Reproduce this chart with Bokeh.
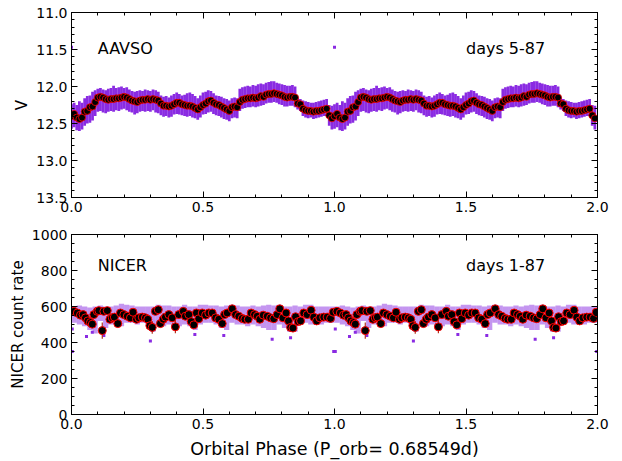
import numpy as np
from bokeh.plotting import figure
from bokeh.models import Range1d, LinearAxis, FixedTicker, PrintfTickFormatter, ColumnDataSource, CustomJSTickFormatter
from bokeh.layouts import column
from bokeh.embed import file_html
from bokeh.resources import INLINE
from bokeh.core.properties import value

# ---------------- data (one orbital cycle, shown twice) ----------------
aavso_phase = np.arange(100) / 100.0
aavso_v = [12.40, 12.37, 12.42, 12.44, 12.42, 12.34, 12.33, 12.28, 12.27, 12.21,
           12.15, 12.14, 12.15, 12.17, 12.18, 12.17, 12.17, 12.16, 12.16, 12.15,
           12.14, 12.15, 12.17, 12.19, 12.20, 12.21, 12.19, 12.18, 12.18, 12.17,
           12.18, 12.17, 12.18, 12.19, 12.23, 12.26, 12.26, 12.27, 12.26, 12.24,
           12.22, 12.22, 12.24, 12.25, 12.26, 12.26, 12.27, 12.29, 12.31, 12.28,
           12.25, 12.23, 12.20, 12.19, 12.22, 12.24, 12.25, 12.27, 12.29, 12.31,
           12.33, 12.28, 12.27, 12.28, 12.21, 12.18, 12.17, 12.16, 12.16, 12.15,
           12.16, 12.15, 12.13, 12.14, 12.11, 12.10, 12.10, 12.09, 12.10, 12.11,
           12.12, 12.14, 12.15, 12.14, 12.14, 12.15, 12.23, 12.24, 12.30, 12.32,
           12.33, 12.33, 12.34, 12.33, 12.33, 12.32, 12.31, 12.30, 12.39, 12.43]
aavso_bright = [12.24, 12.22, 12.25, 12.20, 12.22, 12.16, 12.13, 12.12, 12.07, 12.05,
                12.03, 12.02, 12.04, 12.05, 12.03, 12.02, 11.99, 12.02, 12.01, 12.00,
                12.02, 12.01, 12.04, 12.06, 12.07, 12.06, 12.05, 12.06, 12.04, 12.05,
                12.06, 12.04, 12.05, 12.07, 12.12, 12.14, 12.13, 12.15, 12.12, 12.10,
                12.08, 12.10, 12.12, 12.11, 12.09, 12.08, 12.10, 12.13, 12.16, 12.12,
                12.08, 12.07, 12.05, 12.06, 12.09, 12.12, 12.13, 12.14, 12.16, 12.17,
                12.19, 12.16, 12.15, 12.16, 12.03, 12.01, 12.00, 11.99, 12.00, 11.98,
                11.99, 11.97, 11.96, 11.97, 11.95, 11.94, 11.93, 11.93, 11.95, 11.96,
                11.97, 11.98, 11.99, 11.99, 11.98, 12.00, 12.15, 12.17, 12.19, 12.20,
                12.21, 12.22, 12.22, 12.21, 12.20, 12.19, 12.18, 12.17, 12.25, 12.26]
aavso_faint = [12.57, 12.55, 12.59, 12.60, 12.58, 12.53, 12.50, 12.49, 12.46, 12.40,
               12.34, 12.33, 12.35, 12.36, 12.34, 12.33, 12.34, 12.32, 12.33, 12.31,
               12.30, 12.32, 12.34, 12.35, 12.38, 12.36, 12.34, 12.33, 12.34, 12.33,
               12.34, 12.32, 12.35, 12.36, 12.39, 12.41, 12.40, 12.42, 12.41, 12.38,
               12.37, 12.38, 12.39, 12.40, 12.41, 12.40, 12.42, 12.43, 12.45, 12.42,
               12.38, 12.37, 12.35, 12.34, 12.37, 12.39, 12.40, 12.42, 12.44, 12.45,
               12.47, 12.43, 12.42, 12.43, 12.33, 12.30, 12.29, 12.28, 12.28, 12.27,
               12.28, 12.27, 12.26, 12.25, 12.23, 12.22, 12.22, 12.21, 12.22, 12.24,
               12.25, 12.27, 12.27, 12.26, 12.26, 12.28, 12.31, 12.33, 12.40, 12.42,
               12.43, 12.42, 12.44, 12.43, 12.42, 12.41, 12.40, 12.40, 12.53, 12.58]
aavso_out_phase = [0.0]
aavso_out_v = [11.47]

nicer_phase = [0.009, 0.022, 0.034, 0.044, 0.053, 0.062, 0.072, 0.079, 0.085, 0.098,
               0.104, 0.117, 0.123, 0.136, 0.146, 0.155, 0.163, 0.176, 0.186, 0.199,
               0.212, 0.224, 0.234, 0.247, 0.256, 0.269, 0.281, 0.290, 0.298, 0.307,
               0.319, 0.330, 0.338, 0.349, 0.357, 0.370, 0.383, 0.395, 0.408, 0.425,
               0.433, 0.446, 0.455, 0.465, 0.475, 0.484, 0.497, 0.510, 0.522, 0.535,
               0.548, 0.560, 0.573, 0.582, 0.592, 0.611, 0.624, 0.636, 0.649, 0.659,
               0.672, 0.683, 0.696, 0.706, 0.716, 0.729, 0.744, 0.757, 0.769, 0.782,
               0.792, 0.804, 0.816, 0.825, 0.833, 0.842, 0.852, 0.862, 0.871, 0.883,
               0.896, 0.911, 0.921, 0.932, 0.944, 0.959, 0.972, 0.985, 0.995]
nicer_rate = [573, 564, 552, 555, 537, 520, 511, 502, 555, 573,
              577, 466, 573, 577, 529, 537, 541, 505, 564, 555,
              546, 537, 568, 529, 537, 541, 537, 529, 493, 484,
              573, 582, 505, 529, 541, 555, 537, 487, 555, 573,
              546, 555, 516, 498, 564, 532, 564, 552, 564, 564,
              537, 529, 505, 555, 564, 587, 555, 546, 534, 529,
              529, 564, 555, 546, 529, 552, 546, 537, 532, 555,
              587, 537, 564, 520, 484, 480, 543, 516, 520, 564,
              555, 579, 541, 520, 537, 541, 541, 534, 568]
nicer_err = [10, 10, 10, 10, 10, 10, 12, 12, 10, 10,
             10, 45, 10, 10, 10, 10, 10, 12, 10, 10,
             10, 10, 10, 10, 10, 10, 10, 10, 15, 35,
             10, 10, 12, 10, 10, 10, 10, 35, 10, 10,
             10, 10, 10, 12, 10, 10, 10, 10, 10, 10,
             10, 10, 12, 10, 10, 10, 10, 10, 10, 10,
             10, 10, 10, 10, 10, 10, 10, 10, 10, 10,
             10, 10, 10, 10, 15, 15, 10, 10, 10, 10,
             10, 10, 10, 10, 10, 10, 10, 10, 10]
nicer_band_phase = np.arange(50) / 50.0 + 0.01
nicer_hi = [600, 605, 600, 595, 600, 605, 600, 600, 605, 615,
            610, 605, 600, 600, 600, 600, 610, 605, 605, 600,
            600, 610, 600, 600, 610, 610, 605, 605, 600, 605,
            610, 605, 600, 600, 605, 600, 605, 610, 605, 610,
            600, 600, 605, 600, 610, 610, 600, 600, 600, 600]
nicer_lo = [510, 500, 490, 470, 450, 520, 480, 500, 500, 490,
            510, 510, 500, 510, 500, 460, 500, 490, 500, 480,
            490, 500, 490, 470, 500, 510, 510, 500, 480, 470,
            510, 500, 500, 490, 500, 490, 480, 470, 470, 500,
            480, 460, 460, 500, 510, 500, 500, 500, 510, 510]
nicer_out_phase = [0.003, 0.003, 0.057, 0.079, 0.123, 0.300, 0.469, 0.579, 0.763, 0.833, 0.997]
nicer_out_rate = [350, 475, 434, 457, 439, 409, 445, 439, 418, 427, 350]

# ---------------- helpers ----------------
PURPLE = "#8a2be2"
FONT = "DejaVu Sans"

def two_cycles(ph, *cols):
    ph = np.asarray(ph, dtype=float)
    out = [np.concatenate([ph, ph + 1.0])]
    for c in cols:
        c = np.asarray(c, dtype=float)
        out.append(np.concatenate([c, c]))
    return out

x_ticker = FixedTicker(ticks=[0.0, 0.5, 1.0, 1.5, 2.0],
                       minor_ticks=[round(0.1 * i, 1) for i in range(21)])

def style(p, yticker, yfmt, xlabel=None, ylabel=None):
    p.outline_line_color = "black"
    p.outline_line_width = 1
    p.xgrid.visible = False
    p.ygrid.visible = False
    p.background_fill_color = "white"
    p.border_fill_color = "white"
    for ax in p.xaxis:
        ax.ticker = x_ticker
        ax.formatter = PrintfTickFormatter(format="%.1f")
    for ax in p.yaxis:
        ax.ticker = yticker
        ax.formatter = PrintfTickFormatter(format=yfmt)
    for ax in list(p.xaxis) + list(p.yaxis):
        ax.major_tick_in = 6
        ax.major_tick_out = 0
        ax.minor_tick_in = 3
        ax.minor_tick_out = 0
        ax.axis_line_color = "black"
        ax.major_label_text_font = FONT
        ax.major_label_text_font_size = "14px"
        ax.major_label_text_color = "black"
        ax.axis_label_text_font = FONT
        ax.axis_label_text_font_style = "normal"
        ax.axis_label_text_color = "black"
    p.xaxis.major_label_standoff = 4
    p.xaxis.axis_label_standoff = 7
    p.yaxis.major_label_standoff = 4
    p.yaxis.axis_label_standoff = 2
    p.yaxis.axis_label_text_font_size = "15px"
    p.xaxis.axis_label_text_font_size = "17.5px"
    if xlabel:
        p.xaxis.axis_label = xlabel
    if ylabel:
        p.yaxis.axis_label = ylabel
    # mirrored ticks on top and right (no labels)
    blank = CustomJSTickFormatter(code="return '';")
    top = LinearAxis(ticker=x_ticker, formatter=blank, major_tick_in=6, major_tick_out=0,
                     minor_tick_in=3, minor_tick_out=0, major_label_text_font_size="1px",
                     major_label_standoff=0, axis_line_color="black")
    right = LinearAxis(ticker=yticker, formatter=blank, major_tick_in=6, major_tick_out=0,
                       minor_tick_in=3, minor_tick_out=0, major_label_text_font_size="1px",
                       major_label_standoff=0, axis_line_color="black")
    p.add_layout(top, "above")
    p.add_layout(right, "right")

# ---------------- top panel: AAVSO ----------------
p1 = figure(width=622, height=220, output_backend="svg", toolbar_location=None,
            x_range=Range1d(0.0, 2.0), y_range=Range1d(13.5, 11.0),
            min_border_left=71, min_border_right=25, min_border_top=12, min_border_bottom=23)
yt1 = FixedTicker(ticks=[11.0, 11.5, 12.0, 12.5, 13.0, 13.5],
                  minor_ticks=[round(11.0 + 0.1 * i, 1) for i in range(26)])
style(p1, yt1, "%.1f", ylabel="V")

ph, vb, vf = two_cycles(aavso_phase, aavso_bright, aavso_faint)
p1.vbar(x=ph, width=0.0105, top=vb, bottom=vf, fill_color=PURPLE, line_color=None)
oph, ov = two_cycles(aavso_out_phase, aavso_out_v)
p1.scatter(x=oph, y=ov, marker="square", size=3, fill_color=PURPLE, line_color=None)
ph, vv = two_cycles(aavso_phase, aavso_v)
p1.scatter(x=ph, y=vv, size=7, fill_color="black", line_color="red", line_width=0.8)

src1 = ColumnDataSource(dict(x=[0.1, 1.5], y=[11.48, 11.48], t=["AAVSO", "days 5-87"]))
p1.text(x="x", y="y", text="t", source=src1, text_font=value(FONT), text_font_size="16px",
        text_baseline="alphabetic", text_align="left", text_color="black")

# ---------------- bottom panel: NICER ----------------
p2 = figure(width=622, height=241, output_backend="svg", toolbar_location=None,
            x_range=Range1d(0.0, 2.0), y_range=Range1d(0, 1000),
            min_border_left=71, min_border_right=25, min_border_top=14, min_border_bottom=41)
yt2 = FixedTicker(ticks=[0, 200, 400, 600, 800, 1000],
                  minor_ticks=[50 * i for i in range(21)])
style(p2, yt2, "%d", xlabel="Orbital Phase (P_orb= 0.68549d)", ylabel="NICER count rate")

bph, bhi, blo = two_cycles(nicer_band_phase, nicer_hi, nicer_lo)
p2.vbar(x=bph, width=0.02, top=bhi, bottom=blo, fill_color=PURPLE, fill_alpha=0.5, line_color=None)
oph2, orate = two_cycles(nicer_out_phase, nicer_out_rate)
p2.scatter(x=oph2, y=orate, marker="square", size=3, fill_color=PURPLE, line_color=None)
nph, nr, ne = two_cycles(nicer_phase, nicer_rate, nicer_err)
p2.segment(x0=nph, y0=nr - ne, x1=nph, y1=nr + ne, line_color="#b03020", line_width=1.2)
p2.scatter(x=nph, y=nr, size=8, fill_color="black", line_color="red", line_width=1.0)

src2 = ColumnDataSource(dict(x=[0.1, 1.5], y=[826, 826], t=["NICER", "days 1-87"]))
p2.text(x="x", y="y", text="t", source=src2, text_font=value(FONT), text_font_size="16px",
        text_baseline="alphabetic", text_align="left", text_color="black")

layout = column(p1, p2, spacing=0)
open("out.html", "w").write(file_html(layout, INLINE))
